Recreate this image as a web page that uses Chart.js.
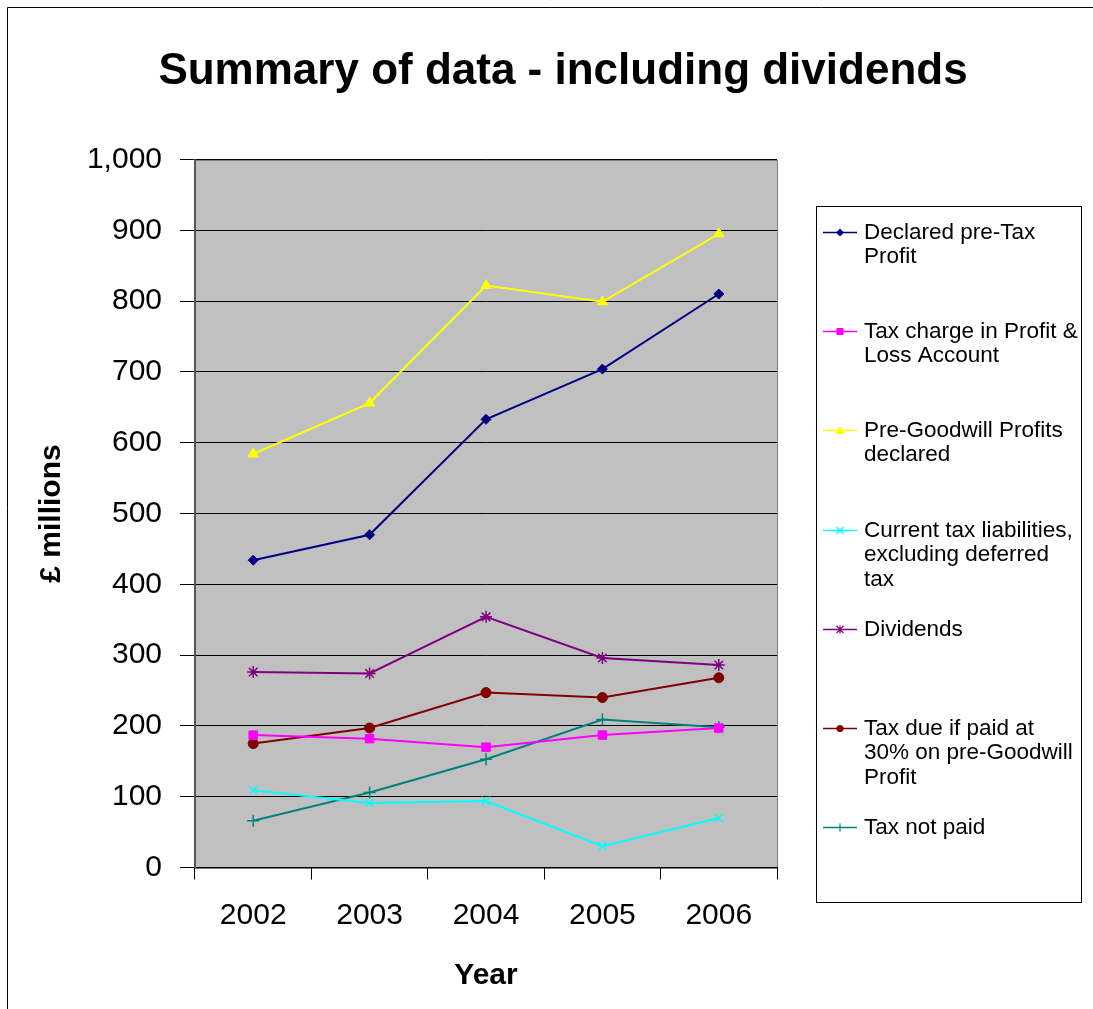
<!DOCTYPE html>
<html>
<head>
<meta charset="utf-8">
<title>Summary of data - including dividends</title>
<script src="https://cdn.jsdelivr.net/npm/chart.js@4/dist/chart.umd.min.js"></script>
<style>
  html, body { margin: 0; padding: 0; background: #fff; }
  canvas { display: block; }
</style>
</head>
<body>
<canvas id="summary-chart" width="1093" height="1009"></canvas>
<script>
// Yearly figures, £ millions
const years = ['2002', '2003', '2004', '2005', '2006'];
const declaredProfit = [434, 470, 633, 704, 810];
const taxCharge = [187, 182, 170, 187, 197];
const preGoodwillProfit = [584, 656, 822, 799, 895];
const currentTaxLiabilities = [109, 91, 94, 30, 70];
const dividends = [276, 274, 354, 296, 286];
const taxDueAt30 = [175, 197, 247, 240, 268];
const taxNotPaid = [66, 106, 153, 209, 198];

const chartTitle = 'Summary of data - including dividends';

// Legend wording, already broken into lines
const legendLines = [
  ['Declared pre-Tax', 'Profit'],
  ['Tax charge in Profit &', 'Loss Account'],
  ['Pre-Goodwill Profits', 'declared'],
  ['Current tax liabilities,', 'excluding deferred', 'tax'],
  ['Dividends'],
  ['Tax due if paid at', '30% on pre-Goodwill', 'Profit'],
  ['Tax not paid']
];

const FONT = '"Liberation Sans", Arial, sans-serif';

function series(label, data, color, style, radius) {
  return {
    label: label,
    data: data,
    borderColor: color,
    backgroundColor: color,
    borderWidth: 2,
    tension: 0,
    pointStyle: style,
    pointRadius: radius,
    pointBorderWidth: (style === 'crossRot' || style === 'cross' || style === 'star') ? 1.5 : 1,
    pointBorderColor: color,
    pointBackgroundColor: color
  };
}

const datasets = [
  series('Declared pre-Tax Profit', declaredProfit, '#000080', 'rectRot', 5),
  series('Tax charge in Profit & Loss Account', taxCharge, '#ff00ff', 'rect', 6),
  series('Pre-Goodwill Profits declared', preGoodwillProfit, '#ffff00', 'triangle', 6),
  series('Current tax liabilities, excluding deferred tax', currentTaxLiabilities, '#00ffff', 'crossRot', 6),
  series('Dividends', dividends, '#800080', 'star', 6),
  series('Tax due if paid at 30% on pre-Goodwill Profit', taxDueAt30, '#800000', 'circle', 5),
  series('Tax not paid', taxNotPaid, '#008080', 'cross', 6)
];

// White page, outer frame, grey plot area and the heading
const backdrop = {
  id: 'backdrop',
  beforeDraw(chart) {
    const ctx = chart.ctx;
    const a = chart.chartArea;
    ctx.save();
    ctx.fillStyle = '#fff';
    ctx.fillRect(0, 0, chart.width, chart.height);
    ctx.strokeStyle = '#000';
    ctx.lineWidth = 1;
    ctx.beginPath();
    ctx.moveTo(7.5, chart.height);
    ctx.lineTo(7.5, 7.5);
    ctx.lineTo(chart.width, 7.5);
    ctx.stroke();
    ctx.fillStyle = '#c0c0c0';
    ctx.fillRect(a.left, a.top, a.right - a.left, a.bottom - a.top);
    ctx.strokeStyle = '#808080';
    ctx.strokeRect(Math.round(a.left) + 0.5, Math.round(a.top) + 0.5,
      Math.round(a.right - a.left), Math.round(a.bottom - a.top));

    ctx.fillStyle = '#000';
    ctx.font = 'bold 44px ' + FONT;
    ctx.textAlign = 'center';
    ctx.textBaseline = 'alphabetic';
    ctx.fillText(chartTitle, 563, 84);
    ctx.restore();
  }
};

// Small legend markers
function legendMarker(ctx, style, x, y, color) {
  ctx.save();
  ctx.fillStyle = color;
  ctx.strokeStyle = color;
  ctx.lineWidth = 1.2;
  ctx.beginPath();
  if (style === 'rectRot') {
    ctx.moveTo(x, y - 4); ctx.lineTo(x + 4, y); ctx.lineTo(x, y + 4); ctx.lineTo(x - 4, y);
    ctx.closePath(); ctx.fill();
  } else if (style === 'rect') {
    ctx.rect(x - 3.5, y - 3.5, 7, 7); ctx.fill();
  } else if (style === 'triangle') {
    ctx.moveTo(x, y - 4.5); ctx.lineTo(x + 4.5, y + 3.5); ctx.lineTo(x - 4.5, y + 3.5);
    ctx.closePath(); ctx.fill();
  } else if (style === 'crossRot') {
    ctx.moveTo(x - 3.5, y - 3.5); ctx.lineTo(x + 3.5, y + 3.5);
    ctx.moveTo(x + 3.5, y - 3.5); ctx.lineTo(x - 3.5, y + 3.5); ctx.stroke();
  } else if (style === 'star') {
    ctx.moveTo(x - 3.5, y - 3.5); ctx.lineTo(x + 3.5, y + 3.5);
    ctx.moveTo(x + 3.5, y - 3.5); ctx.lineTo(x - 3.5, y + 3.5);
    ctx.moveTo(x, y - 4); ctx.lineTo(x, y + 4); ctx.stroke();
  } else if (style === 'circle') {
    ctx.arc(x, y, 3.5, 0, Math.PI * 2); ctx.fill();
  } else if (style === 'cross') {
    ctx.moveTo(x - 4, y); ctx.lineTo(x + 4, y);
    ctx.moveTo(x, y - 4); ctx.lineTo(x, y + 4); ctx.stroke();
  }
  ctx.restore();
}

// Boxed legend to the right of the plot
const boxLegend = {
  id: 'boxLegend',
  afterDraw(chart) {
    const ctx = chart.ctx;
    ctx.save();
    ctx.strokeStyle = '#000';
    ctx.lineWidth = 1;
    ctx.strokeRect(816.5, 206.5, 265, 696);
    ctx.font = '22.5px ' + FONT;
    ctx.fillStyle = '#000';
    ctx.textAlign = 'left';
    ctx.textBaseline = 'middle';
    chart.data.datasets.forEach((ds, i) => {
      const y = Math.round(232 + i * 99.2) + 0.5;
      ctx.strokeStyle = ds.borderColor;
      ctx.lineWidth = 1.5;
      ctx.beginPath();
      ctx.moveTo(823, y);
      ctx.lineTo(857, y);
      ctx.stroke();
      legendMarker(ctx, ds.pointStyle, 840, y, ds.borderColor);
      legendLines[i].forEach((line, k) => {
        ctx.fillText(line, 864, y + k * 24.7);
      });
    });
    ctx.restore();
  }
};

new Chart(document.getElementById('summary-chart'), {
  type: 'line',
  data: { labels: years, datasets: datasets },
  options: {
    responsive: false,
    animation: false,
    devicePixelRatio: 1,
    layout: { padding: { top: 159.5, left: 0, right: 316, bottom: 0 } },
    plugins: {
      legend: { display: false },
      tooltip: { enabled: false },
      title: { display: false }
    },
    scales: {
      x: {
        offset: true,
        afterFit(scale) { scale.height = 141.5; },
        grid: { offset: true, drawOnChartArea: false, drawTicks: true, tickLength: 12, color: '#000' },
        border: { display: true, color: '#000', width: 1 },
        ticks: { color: '#000', font: { family: FONT, size: 30 }, padding: 18, maxRotation: 0 },
        title: {
          display: true,
          text: 'Year',
          color: '#000',
          font: { family: FONT, size: 30, weight: 'bold', lineHeight: 1.2 },
          padding: { top: 0, bottom: 15 }
        }
      },
      y: {
        min: 0,
        max: 1000,
        afterFit(scale) { scale.width = 195; },
        grid: { color: '#000', lineWidth: 1, tickLength: 15, drawTicks: true },
        border: { display: true, color: '#555', width: 2 },
        ticks: {
          stepSize: 100,
          color: '#000',
          padding: 18,
          font: { family: FONT, size: 30 },
          callback: (v) => v.toLocaleString('en-US')
        },
        title: {
          display: true,
          text: '£ millions',
          color: '#000',
          font: { family: FONT, size: 30, weight: 'bold', lineHeight: 1.2 },
          padding: { top: 34, bottom: 0 }
        }
      }
    }
  },
  plugins: [backdrop, boxLegend]
});
</script>
</body>
</html>
